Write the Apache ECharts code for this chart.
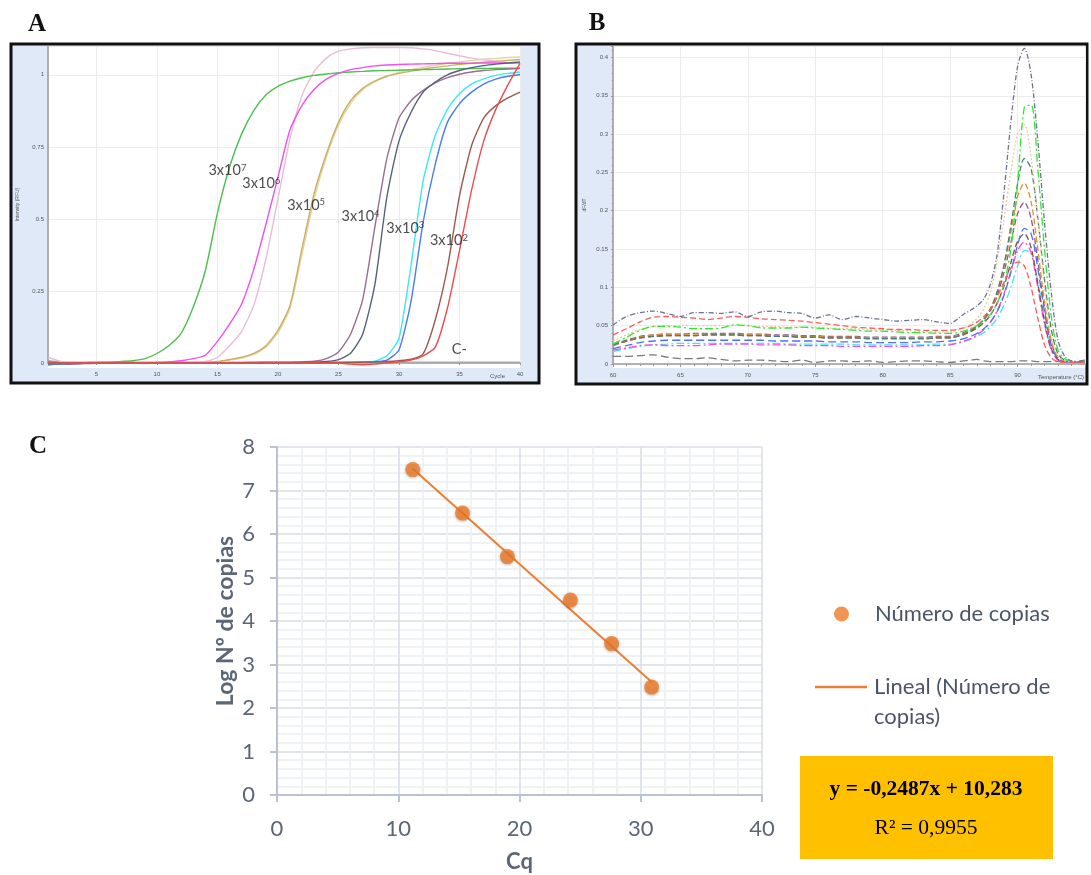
<!DOCTYPE html>
<html><head><meta charset="utf-8">
<script src="https://cdn.jsdelivr.net/npm/echarts@6/dist/echarts.min.js"></script>
<style>html,body{margin:0;padding:0;background:#fff}#c{width:1091px;height:875px}</style>
</head><body><div id="c"></div>
<script>
// ---------- Panel A: amplification curves ----------
const cycles = [1,2,3,4,5,6,7,8,9,10,11,12,13,14,15,16,17,18,19,20,21,22,23,24,25,26,27,28,29,30,31,32,33,34,35,36,37,38,39,40];
const amp3e7 = [0.005,0.001,0.000,0.001,0.002,0.003,0.005,0.008,0.015,0.033, 0.061,0.103,0.194,0.320,0.520,0.680,0.795,0.876,0.930,0.960, 0.978,0.990,0.998,1.003,1.007,1.010,1.012,1.014,1.015,1.016, 1.017,1.018,1.019,1.020,1.021,1.022,1.022,1.023,1.023,1.024];
const amp3e6a = [0.000,-0.003,-0.002,0.000,0.001,0.000,0.001,0.001,0.001,0.002, 0.004,0.008,0.015,0.027,0.075,0.135,0.205,0.325,0.480,0.645, 0.810,0.895,0.950,0.985,1.005,1.018,1.025,1.031,1.034,1.036, 1.037,1.038,1.039,1.040,1.040,1.040,1.041,1.041,1.041,1.042];
const amp3e6b = [0.020,0.006,0.001,0.000,0.000,0.001,0.000,0.001,0.001,0.001, 0.001,0.002,0.002,0.005,0.020,0.060,0.110,0.200,0.360,0.570, 0.780,0.930,1.012,1.058,1.082,1.090,1.094,1.095,1.095,1.095, 1.094,1.090,1.084,1.075,1.066,1.058,1.052,1.047,1.043,1.040];
const amp3e5a = [-0.005,-0.004,-0.002,-0.001,0.000,0.000,0.001,0.001,0.001,0.001, 0.002,0.002,0.002,0.003,0.005,0.012,0.020,0.033,0.060,0.113, 0.200,0.400,0.590,0.725,0.835,0.910,0.953,0.978,0.995,1.005, 1.013,1.020,1.026,1.031,1.036,1.040,1.044,1.047,1.050,1.053];
const amp3e5b = [0.000,0.000,0.000,0.001,0.001,0.001,0.001,0.001,0.001,0.001, 0.001,0.002,0.002,0.003,0.004,0.010,0.017,0.030,0.055,0.105, 0.190,0.380,0.570,0.715,0.825,0.900,0.948,0.976,0.995,1.008, 1.018,1.026,1.033,1.040,1.045,1.050,1.054,1.057,1.060,1.062];
const amp3e4a = [-0.004,-0.003,-0.002,-0.001,0.000,0.000,0.000,0.001,0.001,0.001, 0.001,0.001,0.001,0.001,0.001,0.001,0.001,0.002,0.002,0.002, 0.002,0.004,0.006,0.015,0.038,0.100,0.220,0.470,0.710,0.850, 0.910,0.946,0.972,0.990,1.002,1.010,1.015,1.018,1.020,1.022];
const amp3e4b = [-0.006,-0.004,-0.003,-0.002,-0.001,0.000,0.000,0.000,0.001,0.001, 0.001,0.001,0.001,0.001,0.001,0.001,0.001,0.001,0.002,0.002, 0.002,0.002,0.003,0.005,0.012,0.034,0.100,0.270,0.576,0.770, 0.870,0.940,0.975,1.000,1.015,1.025,1.032,1.037,1.041,1.045];
const amp3e3a = [-0.002,-0.002,-0.001,0.000,0.000,0.000,0.000,0.000,0.000,0.000, 0.000,0.000,0.000,0.000,0.000,0.000,0.001,0.001,0.001,0.001, 0.001,0.001,0.001,0.001,0.002,0.002,0.003,0.006,0.025,0.085, 0.340,0.633,0.790,0.880,0.935,0.968,0.986,0.998,1.005,1.010];
const amp3e3b = [0.000,0.000,0.000,0.000,0.000,0.000,0.000,0.000,0.000,0.000, 0.000,0.000,0.000,0.000,0.000,0.000,0.000,0.000,0.001,0.001, 0.001,0.001,0.001,0.001,0.001,0.002,0.003,0.004,0.010,0.045, 0.215,0.490,0.690,0.835,0.900,0.940,0.968,0.985,0.995,1.000];
const amp3e2a = [0.000,0.000,0.000,0.000,0.000,0.000,0.000,0.000,0.000,0.000, 0.000,0.000,0.000,0.000,0.000,0.000,0.000,0.000,0.000,0.000, 0.000,0.000,0.001,0.001,0.002,0.002,0.003,0.004,0.005,0.008, 0.013,0.032,0.150,0.330,0.580,0.755,0.850,0.893,0.920,0.940];
const amp3e2b = [0.000,0.000,0.000,0.000,0.000,0.000,0.000,0.000,0.000,0.000, 0.000,0.000,0.000,0.000,0.000,0.000,0.000,0.000,0.000,0.000, 0.000,0.000,0.000,0.000,0.000,-0.004,-0.006,-0.004,0.000,0.004, 0.010,0.025,0.055,0.190,0.390,0.600,0.770,0.880,0.965,1.040];
const ampNeg = [0.008,0.004,0.003,0.003,0.003,0.003,0.003,0.003,0.003,0.003, 0.003,0.003,0.003,0.003,0.003,0.003,0.003,0.003,0.003,0.003, 0.003,0.003,0.003,0.003,0.003,0.003,0.003,0.003,0.003,0.003, 0.003,0.003,0.003,0.003,0.003,0.003,0.003,0.003,0.003,0.003];
// curve annotations (cycle, RFU)
const annBase = ['3x10','3x10','3x10','3x10','3x10','3x10','C-'];
const annExp = ['7','6','5','4','3','2',''];
const annCycle = [14.3, 17.1, 20.8, 25.3, 29.0, 32.6, 34.4];
const annRfu = [0.668, 0.620, 0.547, 0.508, 0.467, 0.425, 0.047];

// ---------- Panel B: melt curves ----------
const meltTemps = [60,61,62,63,64,65,66,67,68,69,70,71,72,73,74,75,76,77,78,79,80,81,82,83,84,85,85.5,86,86.5,87,87.5,88,88.5,89,89.5,90,90.5,91,91.5,92,92.5,93,93.5,94,94.5,95];
const meltSlate = [0.051,0.062,0.067,0.069,0.066,0.062,0.067,0.067,0.066,0.068, 0.062,0.068,0.069,0.067,0.066,0.060,0.064,0.058,0.062,0.060, 0.058,0.056,0.057,0.058,0.055,0.053, 0.058,0.065,0.070,0.076,0.085,0.105,0.145,0.225,0.315,0.388, 0.412,0.378,0.292,0.184,0.093,0.031,0.010,0.004,0.003,0.003];
const meltRed = [0.038,0.046,0.055,0.061,0.062,0.061,0.060,0.058,0.060,0.062, 0.061,0.059,0.058,0.057,0.056,0.054,0.052,0.050,0.048,0.047, 0.046,0.045,0.045,0.044,0.044,0.044, 0.045,0.047,0.050,0.055,0.062,0.072,0.088,0.107,0.125,0.133, 0.128,0.100,0.060,0.025,0.008,0.003,0.002,0.002,0.002,0.002];
const meltGreen = [0.026,0.035,0.044,0.049,0.049,0.048,0.046,0.046,0.047,0.051, 0.050,0.047,0.047,0.047,0.048,0.047,0.046,0.045,0.044,0.043, 0.043,0.042,0.041,0.041,0.040,0.040, 0.041,0.043,0.046,0.050,0.056,0.065,0.080,0.105,0.150,0.235, 0.335,0.338,0.255,0.150,0.062,0.018,0.007,0.004,0.003,0.003];
const meltTan = [0.030,0.038,0.045,0.049,0.050,0.050,0.050,0.050,0.050,0.050, 0.050,0.049,0.049,0.048,0.048,0.048,0.047,0.046,0.046,0.045, 0.045,0.044,0.043,0.042,0.042,0.042, 0.044,0.047,0.052,0.060,0.072,0.095,0.135,0.190,0.250,0.300, 0.313,0.270,0.190,0.100,0.035,0.010,0.004,0.003,0.003,0.003];
const meltDkGreen = [0.025,0.030,0.034,0.036,0.037,0.037,0.037,0.038,0.038,0.038, 0.037,0.037,0.036,0.036,0.035,0.035,0.034,0.034,0.034,0.033, 0.033,0.033,0.033,0.033,0.034,0.034, 0.036,0.039,0.043,0.049,0.058,0.072,0.095,0.130,0.180,0.235, 0.268,0.255,0.190,0.110,0.045,0.013,0.005,0.003,0.003,0.003];
const meltOrange = [0.024,0.030,0.035,0.038,0.039,0.039,0.039,0.039,0.039,0.039, 0.038,0.038,0.037,0.037,0.036,0.036,0.035,0.035,0.035,0.034, 0.034,0.034,0.034,0.034,0.035,0.035, 0.037,0.040,0.044,0.050,0.059,0.073,0.095,0.128,0.172,0.218, 0.236,0.212,0.150,0.080,0.030,0.009,0.004,0.003,0.003,0.003];
const meltPurple = [0.026,0.031,0.036,0.038,0.039,0.039,0.040,0.040,0.040,0.040, 0.039,0.039,0.038,0.038,0.037,0.037,0.036,0.036,0.036,0.035, 0.035,0.035,0.035,0.035,0.036,0.036, 0.038,0.041,0.045,0.050,0.058,0.070,0.090,0.120,0.158,0.196, 0.211,0.190,0.135,0.073,0.028,0.008,0.004,0.003,0.003,0.003];
const meltBlue = [0.020,0.024,0.028,0.030,0.031,0.031,0.031,0.031,0.031,0.031, 0.031,0.031,0.030,0.030,0.030,0.030,0.029,0.029,0.029,0.028, 0.028,0.028,0.028,0.029,0.029,0.030, 0.031,0.033,0.036,0.040,0.046,0.055,0.069,0.090,0.120,0.155, 0.177,0.170,0.125,0.068,0.025,0.007,0.003,0.002,0.002,0.002];
const meltBrown = [0.024,0.030,0.034,0.036,0.037,0.037,0.037,0.038,0.038,0.038, 0.037,0.037,0.036,0.036,0.035,0.035,0.034,0.034,0.034,0.033, 0.033,0.033,0.033,0.033,0.034,0.034, 0.036,0.038,0.042,0.047,0.054,0.064,0.080,0.102,0.132,0.160, 0.170,0.152,0.105,0.055,0.020,0.006,0.003,0.003,0.003,0.003];
const meltMagenta = [0.018,0.021,0.024,0.025,0.024,0.024,0.024,0.025,0.026,0.026, 0.026,0.025,0.025,0.025,0.024,0.024,0.024,0.023,0.023,0.023, 0.023,0.023,0.023,0.024,0.024,0.025, 0.027,0.030,0.033,0.038,0.045,0.055,0.070,0.092,0.120,0.148, 0.159,0.145,0.100,0.052,0.018,0.005,0.002,0.002,0.002,0.002];
const meltCyan = [0.016,0.020,0.023,0.025,0.026,0.027,0.027,0.027,0.027,0.027, 0.027,0.027,0.027,0.026,0.026,0.026,0.026,0.026,0.025,0.025, 0.025,0.025,0.025,0.025,0.026,0.026, 0.027,0.029,0.032,0.036,0.041,0.049,0.060,0.077,0.100,0.128, 0.148,0.145,0.108,0.060,0.022,0.006,0.003,0.002,0.002,0.002];
const meltNeg = [0.010,0.010,0.011,0.012,0.009,0.007,0.007,0.008,0.006,0.004, 0.005,0.005,0.004,0.003,0.005,0.002,0.004,0.004,0.003,0.004, 0.002,0.003,0.004,0.004,0.003,0.002, 0.003,0.004,0.005,0.006,0.004,0.003,0.003,0.003,0.003,0.004, 0.004,0.004,0.003,0.003,0.003,0.003,0.003,0.003,0.004,0.005];

// ---------- Panel C: standard curve ----------
const cqValues = [11.2, 15.3, 19.0, 24.2, 27.6, 30.9];
const logCopies = [7.48, 6.48, 5.48, 4.48, 3.48, 2.48];
const trendCq = [11.2, 30.9];
const trendLog = [7.50, 2.60];
const equationText = 'y = -0,2487x + 10,283';
const r2Text = 'R² = 0,9955';
const panelLetters = ['A', 'B', 'C'];

// ---------- styles ----------
const ampStyles = [
  [ampNeg, '#a8a8a8'], [amp3e6b, '#e9bcd8'], [amp3e5b, '#e3d5a2'], [amp3e5a, '#c8b064'],
  [amp3e7, '#4cbf4c'], [amp3e6a, '#f24ff0'], [amp3e4a, '#9a6e8c'], [amp3e4b, '#56607e'],
  [amp3e3a, '#3ce8f2'], [amp3e3b, '#4a7cf2'], [amp3e2a, '#a0584e'], [amp3e2b, '#f04a4a']
];
const meltStyles = [
  [meltNeg, '#7a7a7a', [8,4]], [meltCyan, '#45e3f2', [8,3,2,3]], [meltMagenta, '#f24be8', [8,3,2,3]],
  [meltBrown, '#8c4d3c', [6,3]], [meltBlue, '#4d6ff5', [8,4]], [meltPurple, '#8e5490', [6,3]],
  [meltOrange, '#d69435', [6,3]], [meltDkGreen, '#4f7f66', [6,3]], [meltTan, '#ebc9a0', [2,2]],
  [meltGreen, '#2ee82e', [8,3,2,3]], [meltRed, '#ff5a5a', [6,3]], [meltSlate, '#6b7493', [5,2,1,2]]
];

const tinyLabel = {fontSize: 6, color: '#555', fontFamily: 'Liberation Sans'};
const cFont = 'Lato';
const cText = '#5b6677';
const cAxisLine = {lineStyle: {color: '#b8c2d2', width: 2}};

const series = [];
ampStyles.forEach(([arr, color], i) => {
  series.push({type: 'line', xAxisIndex: 0, yAxisIndex: 0, showSymbol: false, symbol: 'none', smooth: 0.2,
    clip: false, silent: true, lineStyle: {color: color, width: 1.4}, z: 2,
    data: cycles.map((c, k) => [c, arr[k]])});
});
series.push({type: 'scatter', xAxisIndex: 0, yAxisIndex: 0, symbolSize: 1, silent: true, z: 5,
  itemStyle: {color: 'transparent'},
  data: annCycle.map((c, i) => [c, annRfu[i], annBase[i], annExp[i]]),
  label: {show: true, position: [0, 0], align: 'left', verticalAlign: 'middle',
    formatter: p => '{b|' + p.value[2] + '}' + (p.value[3] ? '{s|' + p.value[3] + '}' : ''),
    rich: {b: {fontFamily: 'Lato', fontSize: 14.5, color: '#222'},
           s: {fontFamily: 'Lato', fontSize: 9.5, color: '#222', verticalAlign: 'top'}}}
});
meltStyles.forEach(([arr, color, dash]) => {
  series.push({type: 'line', xAxisIndex: 1, yAxisIndex: 1, showSymbol: false, symbol: 'none', smooth: 0.3,
    clip: false, silent: true, lineStyle: {color: color, width: 1.3, type: dash}, z: 2,
    data: meltTemps.map((t, k) => [t, arr[k]])});
});
series.push({name: 'Lineal (Número de copias)', type: 'line', xAxisIndex: 2, yAxisIndex: 2, symbol: 'none',
  lineStyle: {color: '#ed7d31', width: 2}, itemStyle: {color: '#ed7d31'}, z: 3,
  data: trendCq.map((x, i) => [x, trendLog[i]])});
series.push({name: 'Número de copias', type: 'scatter', xAxisIndex: 2, yAxisIndex: 2, symbolSize: 15, z: 4,
  itemStyle: {color: '#ef7a28', shadowBlur: 3, shadowColor: 'rgba(0,0,0,0.35)', shadowOffsetY: 1},
  data: cqValues.map((x, i) => [x, logCopies[i]])});

const chart = echarts.init(document.getElementById('c'));
chart.setOption({
  animation: false,
  backgroundColor: '#fff',
  grid: [
    {left: 48, top: 46, width: 472, height: 317, containLabel: false},
    {left: 613, top: 46, width: 472, height: 318, containLabel: false},
    {left: 277, top: 447, width: 485, height: 348, containLabel: false}
  ],
  xAxis: [
    {gridIndex: 0, type: 'value', min: 1, max: 40, splitNumber: 8, offset: 5,
     axisLine: {lineStyle: {color: '#9a9a9a', width: 1.5}}, axisTick: {show: true, length: 2, lineStyle: {color: '#9a9a9a'}},
     axisLabel: Object.assign({margin: 3, showMinLabel: false}, tinyLabel),
     splitLine: {show: true, lineStyle: {color: '#ececec'}},
     name: 'Cycle', nameLocation: 'end', nameGap: -30, nameMoveOverlap: false,
     nameTextStyle: {fontSize: 6, color: '#555', align: 'left', verticalAlign: 'top', lineHeight: 26}},
    {gridIndex: 1, type: 'value', min: 60, max: 95, interval: 5, offset: 4,
     axisLine: {lineStyle: {color: '#9a9a9a', width: 1.5}}, axisTick: {show: true, length: 3, lineStyle: {color: '#9a9a9a'}},
     minorTick: {show: true, splitNumber: 5, length: 2, lineStyle: {color: '#9a9a9a'}},
     axisLabel: Object.assign({margin: 4, showMaxLabel: false}, tinyLabel),
     splitLine: {show: true, lineStyle: {color: '#ececec'}},
     name: 'Temperature (°C)', nameLocation: 'end', nameGap: -47, nameMoveOverlap: false,
     nameTextStyle: {fontSize: 6, color: '#555', align: 'left', verticalAlign: 'top', lineHeight: 26}},
    {gridIndex: 2, type: 'value', min: 0, max: 40, interval: 10,
     axisLine: cAxisLine, axisTick: {show: true, length: 7, lineStyle: {color: '#b8c2d2', width: 2}},
     minorTick: {show: false, splitNumber: 5},
     axisLabel: {margin: 23, fontFamily: cFont, fontSize: 22, color: cText},
     splitLine: {show: true, lineStyle: {color: '#d8dde6', width: 1.5}},
     minorSplitLine: {show: true, lineStyle: {color: '#eceff4', width: 1.5}},
     name: 'Cq', nameLocation: 'middle', nameGap: 56, nameMoveOverlap: false,
     nameTextStyle: {fontFamily: cFont, fontSize: 22, fontWeight: 'bold', color: cText}}
  ],
  yAxis: [
    {gridIndex: 0, type: 'value', min: 0, max: 1.1, interval: 0.25,
     axisLine: {show: true, lineStyle: {color: '#9a9a9a', width: 1.5}}, axisTick: {show: false},
     axisLabel: Object.assign({margin: 4, showMaxLabel: false}, tinyLabel),
     splitLine: {show: true, lineStyle: {color: '#ececec'}},
     name: 'Intensity (RFU)', nameLocation: 'middle', nameGap: 28, nameRotate: 90,
     nameTextStyle: {fontSize: 5, color: '#555'}},
    {gridIndex: 1, type: 'value', min: 0, max: 0.415, interval: 0.05,
     axisLine: {show: true, lineStyle: {color: '#9a9a9a', width: 1.5}}, axisTick: {show: true, length: 2},
     minorTick: {show: true, splitNumber: 5, length: 1.5, lineStyle: {color: '#aaa'}},
     axisLabel: Object.assign({margin: 5, showMaxLabel: false}, tinyLabel),
     splitLine: {show: true, lineStyle: {color: '#ececec'}},
     name: 'dF/dT', nameLocation: 'middle', nameGap: 26, nameRotate: 90,
     nameTextStyle: {fontSize: 5, color: '#555'}},
    {gridIndex: 2, type: 'value', min: 0, max: 8, interval: 1,
     axisLine: Object.assign({show: true}, cAxisLine), axisTick: {show: true, length: 7, lineStyle: {color: '#b8c2d2', width: 2}},
     minorTick: {show: false, splitNumber: 5},
     axisLabel: {margin: 22, fontFamily: cFont, fontSize: 22, color: cText},
     splitLine: {show: true, lineStyle: {color: '#d8dde6', width: 1.5}},
     minorSplitLine: {show: true, lineStyle: {color: '#eceff4', width: 1.5}},
     name: 'Log Nº de copias', nameLocation: 'middle', nameGap: 40, nameRotate: 90, nameMoveOverlap: false,
     nameTextStyle: {fontFamily: cFont, fontSize: 23, fontWeight: 'bold', color: cText}}
  ],
  legend: [
    {data: [{name: 'Número de copias', icon: 'circle'}], left: 834, top: 603, padding: 0,
     itemWidth: 15, itemHeight: 15, selectedMode: false,
     textStyle: {fontFamily: cFont, fontSize: 22, color: '#4a5568', padding: [0, 0, 0, 21]}},
    {data: [{name: 'Lineal (Número de copias)', icon: 'rect'}], left: 815, top: 642, padding: 0,
     itemWidth: 52, itemHeight: 2.5, selectedMode: false,
     formatter: () => ' \nLineal (Número de\ncopias)',
     textStyle: {fontFamily: cFont, fontSize: 22, color: '#4a5568', lineHeight: 30, padding: [0, 0, 0, 2]}}
  ],
  graphic: [
    {type: 'rect', z: -20, shape: {x: 11, y: 44, width: 528, height: 339}, style: {fill: '#dfe9f8', stroke: '#111', lineWidth: 3}},
    {type: 'rect', z: -20, shape: {x: 576, y: 44, width: 511, height: 340}, style: {fill: '#dfe9f8', stroke: '#111', lineWidth: 3}},
    {type: 'rect', z: -19, shape: {x: 48, y: 46, width: 472, height: 322}, style: {fill: '#fff'}},
    {type: 'rect', z: -19, shape: {x: 613, y: 46, width: 472, height: 322}, style: {fill: '#fff'}},
    {type: 'text', style: {text: panelLetters[0], x: 37, y: 25, align: 'center', verticalAlign: 'middle', font: 'bold 25px "Liberation Serif"', fill: '#111'}},
    {type: 'text', style: {text: panelLetters[1], x: 597, y: 24, align: 'center', verticalAlign: 'middle', font: 'bold 25px "Liberation Serif"', fill: '#111'}},
    {type: 'text', style: {text: panelLetters[2], x: 38, y: 447, align: 'center', verticalAlign: 'middle', font: 'bold 25px "Liberation Serif"', fill: '#111'}},
    {type: 'rect', z: 1, shape: {x: 800, y: 756, width: 253, height: 103}, style: {fill: '#ffc000'}},
    {type: 'text', z: 2, style: {text: equationText, x: 926, y: 789, align: 'center', verticalAlign: 'middle', font: 'bold 21.5px "Liberation Serif"', fill: '#000'}},
    {type: 'text', z: 2, style: {text: r2Text, x: 926, y: 828, align: 'center', verticalAlign: 'middle', font: '21.5px "Liberation Serif"', fill: '#000'}}
  ],
  series: series
});
</script></body></html>
